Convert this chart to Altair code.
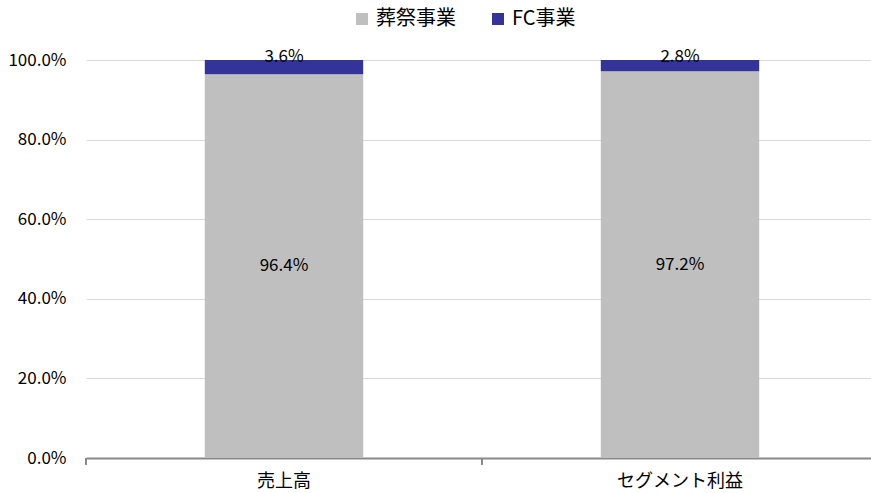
import altair as alt
import pandas as pd

# Segment composition (%) for each measure
categories = ["売上高", "セグメント利益"]
series = ["葬祭事業", "FC事業"]
funeral = [96.4, 97.2]
fc = [3.6, 2.8]
colors = ["#BFBFBF", "#333399"]
y_ticks = [0, 20, 40, 60, 80, 100]

rows = []
for i, c in enumerate(categories):
    rows.append({"cat": c, "series": series[0], "rank": 0, "value": funeral[i]})
    rows.append({"cat": c, "series": series[1], "rank": 1, "value": fc[i]})
df = pd.DataFrame(rows)

JP = "Noto Sans CJK JP"
AXIS_GRAY = "#898989"
STEP = 396  # category step in pixels (792 / 2)

base = alt.Chart(df).transform_stack(
    stack="value", groupby=["cat"], as_=["y0", "y1"], sort=[alt.SortField("rank")]
)

x_scale = alt.Scale(range=[0, 2 * STEP], paddingInner=0.6, paddingOuter=0.3)
y_scale = alt.Scale(domain=[0, 100], nice=False)

y_axis = alt.Axis(
    title=None, values=y_ticks, labelExpr="format(datum.value / 100, '.1%')",
    labelFont=JP, labelFontSize=17, labelColor="#000000", grid=True,
    gridColor="#D9D9D9", gridWidth=1, domain=False, ticks=False, labelPadding=20,
)

x_enc = alt.X(
    "cat:N",
    sort=categories,
    scale=x_scale,
    axis=alt.Axis(
        title=None, labelAngle=0, labelFont=JP, labelFontSize=18, labelColor="#000000",
        domainColor=AXIS_GRAY, domainWidth=2, ticks=False, labelPadding=14, grid=False,
    ),
)

bars = base.mark_bar().encode(
    x=x_enc,
    y=alt.Y("y0:Q", scale=y_scale, axis=y_axis),
    y2="y1:Q",
    color=alt.Color(
        "series:N",
        sort=series,
        scale=alt.Scale(domain=series, range=colors),
        legend=alt.Legend(
            title=None, orient="none", legendX=266, legendY=-51, direction="horizontal",
            symbolType="square", symbolSize=144, symbolStrokeWidth=0, labelFont=JP,
            labelFontSize=20, labelColor="#000000", columnPadding=32, labelOffset=4,
        ),
    ),
)

# category boundary ticks below the baseline
ticks = alt.Chart(pd.DataFrame({"cat": categories})).mark_rule(
    color=AXIS_GRAY, strokeWidth=2, xOffset=-STEP / 2
).encode(
    x=alt.X("cat:N", sort=categories),
    y=alt.value(398),
    y2=alt.value(405),
)

mid_labels = base.transform_filter("datum.rank == 0").transform_calculate(
    ym="(datum.y0 + datum.y1) / 2", lbl="format(datum.value / 100, '.1%')"
).mark_text(font=JP, fontSize=17, baseline="middle", color="#000000").encode(
    x=alt.X("cat:N", sort=categories),
    y=alt.Y("ym:Q", scale=y_scale),
    text="lbl:N",
)

top_labels = base.transform_filter("datum.rank == 1").transform_calculate(
    lbl="format(datum.value / 100, '.1%')"
).mark_text(font=JP, fontSize=17, baseline="alphabetic", dy=2, color="#000000").encode(
    x=alt.X("cat:N", sort=categories),
    y=alt.Y("y1:Q", scale=y_scale),
    text="lbl:N",
)

chart = alt.layer(bars, ticks, mid_labels, top_labels).properties(
    width=785,
    height=398,
    background="#FFFFFF",
    autosize=alt.AutoSizeParams(type="none"),
    padding={"left": 86, "top": 60, "right": 0, "bottom": 35},
).configure_view(stroke=None)

chart.save("out.html", embed_options={"renderer": "svg", "actions": False})
